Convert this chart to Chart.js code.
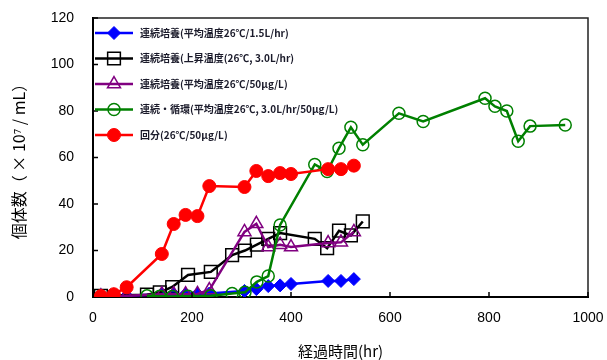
<!DOCTYPE html>
<html>
<head>
    <title>個体数の推移</title>
    <script src="https://cdn.jsdelivr.net/npm/chart.js"></script>
    <style>
        body { margin: 0; background: #fff; }
        #wrap { width: 607px; height: 360px; }
    </style>
</head>
<body>
    <div id="wrap"><canvas id="growthChart" width="607" height="360"></canvas></div>

    <script>
        // sampling times (hr) and counts (x10^7/mL)
        var redHr = [16, 42, 68, 139, 163, 187, 211, 235, 306, 330, 354, 378, 400, 475, 501, 527];
        var blueVal = [0.3, 0.3, 0.5, 1.2, 1.2, 1.2, 1.3, 1.5, 2.6, 3.4, 4.7, 5, 5.6, 6.9, 6.9, 7.7];
        var purpleVal = [0.3, 0.3, 0.5, 1.2, 1.2, 1.2, 1.3, 3, 28, 31.5, 21.5, 22.5, 21.5, 23.2, 23.5, 28];
        var redVal = [0.4, 1.2, 4.2, 18.5, 31.4, 35.3, 34.8, 47.7, 47.3, 54.2, 52, 53.3, 52.9, 55, 55, 56.5];

        var blackHr = [16, 109, 135, 160, 192, 238, 281, 307, 331, 354, 378, 448, 473, 497, 521, 545];
        var blackVal = [0.5, 1, 2, 4.3, 9.5, 10.8, 18, 20, 22.5, 25, 27.5, 25, 21, 28.5, 26.5, 32.5];

        var greenHr = [109, 135, 160, 192, 238, 281, 307, 331, 354, 378, 448, 473, 497, 521, 545, 618, 667, 792, 812, 836, 859, 883, 954];
        var greenVal = [0.5, 0.3, 0.2, 0.3, 0.5, 1.5, 2, 6.5, 9, 31, 57, 54, 64, 73, 65.5, 79, 75.5, 85.5, 82, 80, 67, 73.5, 74];

        var seriesNames = [
            '連続培養(平均温度26℃/1.5L/hr)',
            '連続培養(上昇温度(26℃, 3.0L/hr)',
            '連続培養(平均温度26℃/50μg/L)',
            '連続・循環(平均温度26℃, 3.0L/hr/50μg/L)',
            '回分(26℃/50μg/L)'
        ];

        var xTicks = [0, 200, 400, 600, 800, 1000];
        var yTicks = [0, 20, 40, 60, 80, 100, 120];

        function pts(xs, ys) {
            return xs.map(function (x, i) { return { x: x, y: ys[i] }; });
        }

        function series(label, data, color, style, radius, filled, order) {
            return {
                label: label,
                data: data,
                borderColor: color,
                backgroundColor: filled ? color : 'rgba(0,0,0,0)',
                pointBorderColor: color,
                pointBackgroundColor: filled ? color : 'rgba(0,0,0,0)',
                pointStyle: style,
                pointRadius: radius,
                pointHoverRadius: radius,
                pointBorderWidth: filled ? 1 : 1.5,
                borderWidth: 2.5,
                tension: 0,
                order: order
            };
        }

        var datasets = [
            series(seriesNames[0], pts(redHr, blueVal), '#0000ff', 'rectRot', 6.5, true, 5),
            series(seriesNames[1], pts(blackHr, blackVal), '#000000', 'rect', 9, false, 4),
            series(seriesNames[2], pts(redHr, purpleVal), '#800080', 'triangle', 7.5, false, 3),
            series(seriesNames[3], pts(greenHr, greenVal), '#008000', 'circle', 6, false, 2),
            series(seriesNames[4], pts(redHr, redVal), '#ff0000', 'circle', 6.5, true, 1)
        ];

        // frame, inward ticks and in-plot legend
        var framePlugin = {
            id: 'frame',
            afterDatasetsDraw: function (chart) {
                var ctx = chart.ctx, a = chart.chartArea;
                var xs = chart.scales.x, ys = chart.scales.y;
                ctx.save();
                ctx.strokeStyle = '#222';
                ctx.lineWidth = 1.5;
                ctx.beginPath();
                ctx.moveTo(a.left, a.top);
                ctx.lineTo(a.right, a.top);
                ctx.lineTo(a.right, a.bottom);
                ctx.stroke();

                ctx.strokeStyle = '#000';
                ctx.lineWidth = 1.5;
                xTicks.forEach(function (t) {
                    if (t === 0) return;
                    var px = xs.getPixelForValue(t);
                    ctx.beginPath();
                    ctx.moveTo(px, a.bottom);
                    ctx.lineTo(px, a.bottom - 5);
                    ctx.stroke();
                });
                yTicks.forEach(function (t) {
                    if (t === 0) return;
                    var py = ys.getPixelForValue(t);
                    ctx.beginPath();
                    ctx.moveTo(a.left, py);
                    ctx.lineTo(a.left + 5, py);
                    ctx.stroke();
                });

                // legend
                chart.data.datasets.forEach(function (ds, i) {
                    var y = 33 + i * 25.5;
                    ctx.strokeStyle = ds.borderColor;
                    ctx.lineWidth = 2.5;
                    ctx.beginPath();
                    ctx.moveTo(95, y);
                    ctx.lineTo(133, y);
                    ctx.stroke();
                    ctx.fillStyle = ds.pointBackgroundColor;
                    ctx.strokeStyle = ds.pointBorderColor;
                    ctx.lineWidth = ds.pointBorderWidth;
                    Chart.helpers.drawPoint(ctx, {
                        pointStyle: ds.pointStyle,
                        radius: ds.pointRadius,
                        borderWidth: ds.pointBorderWidth,
                        rotation: 0
                    }, 114, y);
                    ctx.fillStyle = '#1a1a2a';
                    ctx.font = 'bold 10px "Noto Sans CJK JP"';
                    ctx.textBaseline = 'middle';
                    ctx.textAlign = 'left';
                    ctx.fillText(ds.label, 140, y);
                });
                ctx.restore();
            }
        };

        var ctx = document.getElementById('growthChart').getContext('2d');
        var growthChart = new Chart(ctx, {
            type: 'line',
            data: { datasets: datasets },
            plugins: [framePlugin],
            options: {
                responsive: false,
                animation: false,
                layout: { autoPadding: false, padding: { top: 18, right: 19, left: 0, bottom: 0 } },
                plugins: {
                    legend: { display: false },
                    tooltip: { enabled: false }
                },
                scales: {
                    x: {
                        type: 'linear',
                        min: 0,
                        max: 1000,
                        afterFit: function (s) { s.height = 63; s.paddingLeft = 0; s.paddingRight = 0; },
                        afterBuildTicks: function (s) { s.ticks = xTicks.map(function (v) { return { value: v }; }); },
                        grid: { display: false, drawTicks: false },
                        border: { display: true, color: '#000', width: 2 },
                        ticks: {
                            padding: 13,
                            color: '#000',
                            font: { family: 'Liberation Sans', size: 14 },
                            callback: function (v) { return String(v); }
                        },
                        title: {
                            display: true,
                            text: '経過時間(hr)',
                            color: '#000',
                            padding: { top: 0, bottom: 0 },
                            font: { family: '"Noto Sans CJK JP"', size: 15 }
                        }
                    },
                    y: {
                        min: 0,
                        max: 120,
                        afterFit: function (s) { s.width = 93; s.paddingTop = 0; s.paddingBottom = 0; },
                        afterBuildTicks: function (s) { s.ticks = yTicks.map(function (v) { return { value: v }; }); },
                        grid: { display: false, drawTicks: false },
                        border: { display: true, color: '#000', width: 2 },
                        ticks: {
                            padding: 19,
                            color: '#000',
                            font: { family: 'Liberation Sans', size: 14 },
                            callback: function (v) { return String(v); }
                        },
                        title: {
                            display: true,
                            text: '個体数（ × 10⁷ / mL）',
                            color: '#000',
                            padding: { top: 9, bottom: 0 },
                            font: { family: '"Noto Sans CJK JP"', size: 16 }
                        }
                    }
                }
            }
        });
    </script>
</body>
</html>
